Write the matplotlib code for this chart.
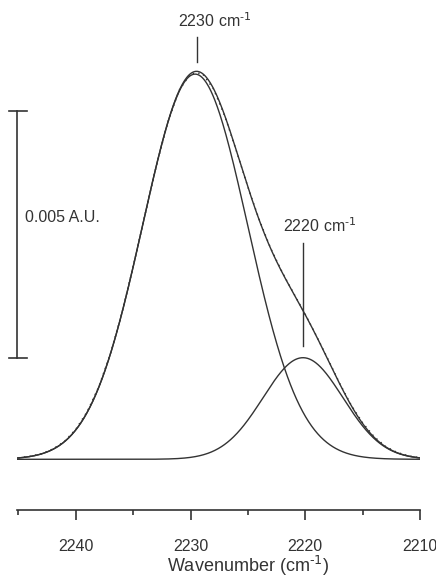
import numpy as np
import matplotlib
matplotlib.use("Agg")
import matplotlib.pyplot as plt
from matplotlib.ticker import MultipleLocator

plt.rcParams['font.family'] = ['Liberation Sans', 'DejaVu Sans']
plt.rcParams['mathtext.default'] = 'regular'

# Measured spectrum (absorbance in 10^-3 A.U.)
wavenumber = np.arange(2245, 2209, -1)
absorb_meas = [0.03, 0.06, 0.11, 0.21, 0.36, 0.61, 0.97, 1.47, 2.13, 2.95,
               3.91, 4.93, 5.93, 6.82, 7.48, 7.82, 7.83, 7.51, 6.95, 6.25,
               5.52, 4.85, 4.27, 3.79, 3.36, 2.94, 2.49, 2.02, 1.54, 1.10,
               0.74, 0.46, 0.26, 0.14, 0.07, 0.03]

# Fitted Gaussian bands: centre (cm-1), height (10^-3 A.U.), FWHM (cm-1)
band_centre = [2229.6, 2220.2]
band_height = [7.81, 2.06]
band_fwhm = [10.8, 8.2]
band_label = [r"2230 cm$^{\text{-1}}$", r"2220 cm$^{\text{-1}}$"]

scale_bar = 5.0   # 10^-3 A.U.
scale_label = "0.005 A.U."

ink = "#333333"

wn = np.linspace(2245.1, 2210, 800)
bands = []
for c, h, w in zip(band_centre, band_height, band_fwhm):
    s = w / (2 * np.sqrt(2 * np.log(2)))
    bands.append(h * np.exp(-(wn - c) ** 2 / (2 * s ** 2)))
fit_sum = np.sum(bands, axis=0)

fig = plt.figure(figsize=(4.36, 5.75), dpi=100)
ax = fig.add_axes([0.0397, 0.11304, 0.9236, 0.8696])

for b in bands:
    ax.plot(wn, b, color=ink, lw=1.0)
ax.plot(wn, fit_sum, color=ink, lw=1.0)
ax.plot(wavenumber, absorb_meas, color=ink, lw=1.0, ls=(0, (1, 3)))

ax.set_xlim(2245.1, 2210)
ax.set_ylim(-1.028, 9.11)

# peak markers
top1 = np.interp(2229.4, wn[::-1], fit_sum[::-1])
ax.plot([2229.4, 2229.4], [top1 + 0.19, top1 + 0.69], color=ink, lw=1.0)
ax.text(2231.13, top1 + 0.89, band_label[0], fontsize=11.5, color=ink,
        ha='left', va='baseline')
ax.plot([band_centre[1]] * 2, [2.29, 4.38], color=ink, lw=1.0)
ax.text(2221.92, 4.6, band_label[1], fontsize=11.5, color=ink,
        ha='left', va='baseline')

# absorbance scale bar
bar_x = 2245.1
bar_lo = band_height[1]
ax.plot([bar_x, bar_x], [bar_lo, bar_lo + scale_bar], color=ink, lw=1.2,
        clip_on=False)
for yy in (bar_lo, bar_lo + scale_bar):
    ax.plot([bar_x + 0.75, bar_x - 0.85], [yy, yy], color=ink, lw=1.2,
            clip_on=False)
ax.text(2244.43, 4.9, scale_label, fontsize=11.5,
        color=ink, ha='left', va='center')

for side in ('left', 'top', 'right'):
    ax.spines[side].set_visible(False)
ax.spines['bottom'].set_color(ink)
ax.spines['bottom'].set_linewidth(1.2)
ax.set_yticks([])
ax.xaxis.set_major_locator(MultipleLocator(10))
ax.xaxis.set_minor_locator(MultipleLocator(5))
ax.tick_params(axis='x', which='major', length=7, width=1.2, color=ink,
               labelsize=11.5, labelcolor=ink, pad=14)
ax.tick_params(axis='x', which='minor', length=3.5, width=1.2, color=ink)
ax.set_xlabel(r"Wavenumber (cm$^{\text{-1}}$)", fontsize=13, color=ink)
ax.xaxis.set_label_coords(0.572, -0.087)

fig.savefig("out.png", dpi=100)
